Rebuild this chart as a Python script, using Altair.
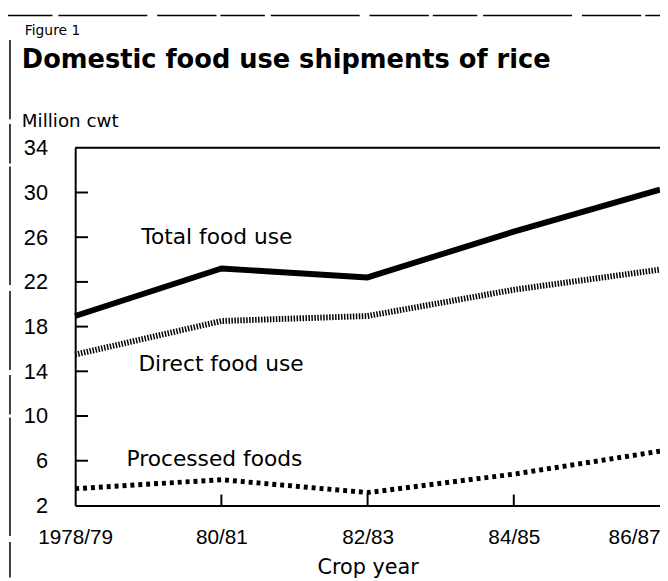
import altair as alt
import pandas as pd

years = ["1978/79", "80/81", "82/83", "84/85", "86/87"]
total = [18.95, 23.2, 22.4, 26.5, 30.25]
direct = [15.5, 18.5, 18.95, 21.3, 23.1]
processed = [3.5, 4.3, 3.15, 4.8, 6.85]
y_ticks = [2, 6, 10, 14, 18, 22, 26, 30, 34]
inner_y_ticks = [6, 10, 14, 18, 22, 26, 30]
inner_x_ticks = ["80/81", "82/83", "84/85"]

W, H = 592, 362
TXT = "DejaVu Sans"
NUM = "Liberation Sans"

df = pd.DataFrame({
    "year": years * 3,
    "value": total + direct + processed,
    "series": ["Total"] * 5 + ["Direct"] * 5 + ["Processed"] * 5,
})

xscale = alt.Scale(type="point", domain=years, padding=0)
yscale = alt.Scale(domain=[2, 34], nice=False, zero=False)

xaxis = alt.Axis(
    title="Crop year", labelAngle=0, ticks=False, domainWidth=2,
    domainColor="black", labelColor="black", labelFont=NUM, labelFontSize=21,
    labelPadding=22, labelAlign={"expr": "datum.label == '86/87' ? 'right' : 'center'"},
    titleFont=TXT, titleFontSize=21, titleFontWeight="normal", titleColor="black",
    titlePadding=9, labelFlush=False, grid=False)
yaxis = alt.Axis(
    values=y_ticks, title=None, ticks=False, domainWidth=2, domainColor="black",
    labelColor="black", labelFont=NUM, labelFontSize=22, labelPadding=28,
    labelOverlap=False, labelFlush=False, grid=False)

base = alt.Chart(df)


def xenc(field="year"):
    return alt.X(f"{field}:N", scale=xscale, sort=years, axis=xaxis)


def yenc(field="value"):
    return alt.Y(f"{field}:Q", scale=yscale, axis=yaxis)


total_line = base.transform_filter(alt.datum.series == "Total").mark_line(
    color="black", strokeWidth=6, strokeJoin="round"
).encode(x=xenc(), y=yenc())

direct_line = base.transform_filter(alt.datum.series == "Direct").mark_line(
    color="black", strokeWidth=6, strokeDash=[1.5, 1.5], strokeCap="butt"
).encode(x=xenc(), y=yenc())

processed_line = base.transform_filter(alt.datum.series == "Processed").mark_line(
    color="black", strokeWidth=5, strokeDash=[4, 4], strokeCap="butt"
).encode(x=xenc(), y=yenc())

ytick_rules = alt.Chart(pd.DataFrame({"value": inner_y_ticks})).mark_rule(
    color="black", strokeWidth=2
).encode(
    y=yenc(),
    x=alt.value(0), x2=alt.value(13),
)

xtick_rules = alt.Chart(pd.DataFrame({"year": inner_x_ticks})).mark_rule(
    color="black", strokeWidth=2
).encode(
    x=xenc(),
    y=alt.value(H), y2=alt.value(H - 11),
)

top_border = alt.Chart(alt.Data(values=[{}])).mark_rule(color="black", strokeWidth=2).encode(
    x=alt.value(0), x2=alt.value(W), y=alt.value(0)
)

frame_top = alt.Chart(alt.Data(values=[{}])).mark_rule(
    color="black", strokeWidth=1.5, strokeDash=[45, 6, 90, 10, 60, 4]
).encode(x=alt.value(-68), x2=alt.value(W), y=alt.value(-134))

frame_left = alt.Chart(alt.Data(values=[{}])).mark_rule(
    color="black", strokeWidth=1.5, strokeDash=[80, 5, 40, 3, 120, 6]
).encode(x=alt.value(-66), y=alt.value(-109), y2=alt.value(435))


def label(text, x, y, size, weight="normal"):
    return alt.Chart(alt.Data(values=[{}])).mark_text(
        text=text, align="left", baseline="alphabetic", font=TXT,
        fontSize=size, fontWeight=weight, color="black"
    ).encode(x=alt.value(x), y=alt.value(y))


texts = [
    label("Figure 1", -51, -114, 14),
    label("Domestic food use shipments of rice", -54, -81, 26, "bold"),
    label("Million cwt", -54, -21, 18.5),
    label("Total food use", 67, 97, 22),
    label("Direct food use", 64, 226, 22),
    label("Processed foods", 52, 322, 22),
]

chart = alt.layer(
    total_line, direct_line, processed_line, ytick_rules, xtick_rules,
    top_border, frame_top, frame_left, *texts
).properties(
    width=W, height=H,
    autosize=alt.AutoSizeParams(type="none"),
    padding={"left": 68, "top": 138, "right": 0, "bottom": 73},
).configure_view(stroke=None).configure(background="white")

chart.save("out.html", embed_options={"renderer": "svg", "actions": False})
